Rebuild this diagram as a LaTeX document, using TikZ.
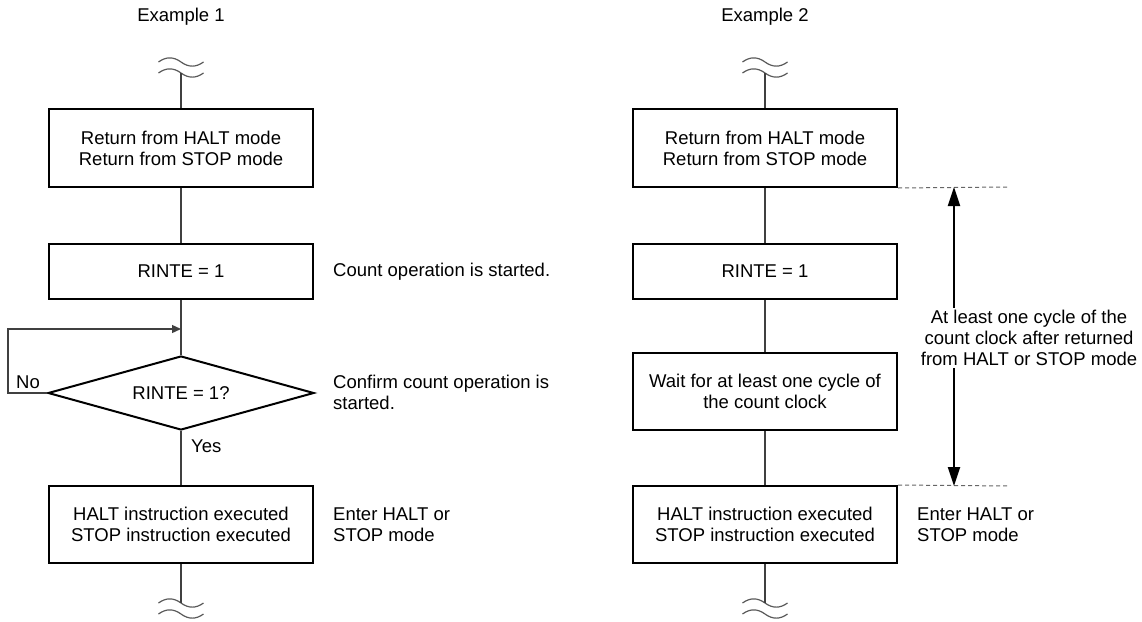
\documentclass[tikz,border=0pt]{standalone}
\usepackage{fontspec}
\setmainfont{Liberation Sans}
\usetikzlibrary{shapes.geometric,arrows.meta}
\begin{document}
\begin{tikzpicture}[x=1pt,y=-1pt,
  every node/.style={font=\fontsize{18.5}{21}\selectfont, inner sep=0pt},
  box/.style={draw=black, line width=2pt, minimum width=264pt, align=center},
  dia/.style={draw=black, line width=2pt, shape=diamond, minimum width=266pt, minimum height=74pt, aspect=3.6},
  conn/.style={draw=black!75, line width=1.3pt},
  note/.style={anchor=west, align=left},
  dashline/.style={draw=black!60, line width=1pt, dash pattern=on 4pt off 3pt},
  span/.style={draw=black, line width=2.2pt, {Triangle[length=19pt,width=12pt]}-{Triangle[length=19pt,width=12pt]}},
  loophead/.style={-{Triangle[length=9pt,width=8pt]}},
  wave/.pic={\draw[black!65, line width=1.2pt] (-22.5,0) .. controls (-15,-5.5) and (-7.5,-5.5) .. (0,0) .. controls (7.5,5.5) and (15,5.5) .. (22.5,0);}
]
\useasboundingbox (0,0) rectangle (1142,621);

% ---------- Example 1 ----------
\node (t1) at (181,17) {Example 1};
\pic at (181,62) {wave};
\pic at (181,73) {wave};
\coordinate (w1top) at (181,73);
\node[box, minimum height=78pt] (a1) at (181,148) {Return from HALT mode\\Return from STOP mode};
\node[box, minimum height=55pt] (a2) at (181,271.5) {RINTE = 1};
\node[dia] (a3) at (181,393) {RINTE = 1?};
\node[box, minimum height=77pt] (a4) at (181,524.5) {HALT instruction executed\\STOP instruction executed};
\coordinate (w1bot) at (181,603);
\pic at (181,603) {wave};
\pic at (181,614) {wave};
\coordinate (loopin) at (181,329);
\coordinate (loopcorner) at (8,393);

\draw[conn] (w1top) -- (a1.north);
\draw[conn] (a1.south) -- (a2.north);
\draw[conn] (a2.south) -- (a3.north);
\draw[conn] (a3.south) -- (a4.north);
\draw[conn] (a4.south) -- (w1bot);
\draw[conn, loophead] (a3.west) -- (loopcorner) |- (loopin);

\node[anchor=base west] (no) at (16,388) {No};
\node[anchor=base west] (yes) at (191,452) {Yes};

\node[note] (n1) at (333,271.5) {Count operation is started.};
\node[note] (n2) at (333,392) {Confirm count operation is\\started.};
\node[note] (n3) at (333,524.5) {Enter HALT or\\STOP mode};

% ---------- Example 2 ----------
\node (t2) at (765,17) {Example 2};
\pic at (765,62) {wave};
\pic at (765,73) {wave};
\coordinate (w2top) at (765,73);
\node[box, minimum height=78pt] (b1) at (765,148) {Return from HALT mode\\Return from STOP mode};
\node[box, minimum height=55pt] (b2) at (765,271.5) {RINTE = 1};
\node[box, minimum height=77pt] (b3) at (765,391.5) {Wait for at least one cycle of\\the count clock};
\node[box, minimum height=77pt] (b4) at (765,524.5) {HALT instruction executed\\STOP instruction executed};
\coordinate (w2bot) at (765,603);
\pic at (765,603) {wave};
\pic at (765,614) {wave};

\draw[conn] (w2top) -- (b1.north);
\draw[conn] (b1.south) -- (b2.north);
\draw[conn] (b2.south) -- (b3.north);
\draw[conn] (b3.south) -- (b4.north);
\draw[conn] (b4.south) -- (w2bot);

\coordinate (d1end) at (1008,187);
\coordinate (d2end) at (1008,486);
\coordinate (arrtop) at (954,187);
\coordinate (arrbot) at (954,486);
\draw[dashline] (b1.south east) -- (d1end);
\draw[dashline] (b4.north east) -- (d2end);
\draw[span] (arrtop) -- (arrbot);

\node[fill=white, align=center, inner sep=2pt] (spantext) at (1029,338) {At least one cycle of the\\count clock after returned\\from HALT or STOP mode};

\node[note] (n4) at (917,524.5) {Enter HALT or\\STOP mode};
\end{tikzpicture}
\end{document}
